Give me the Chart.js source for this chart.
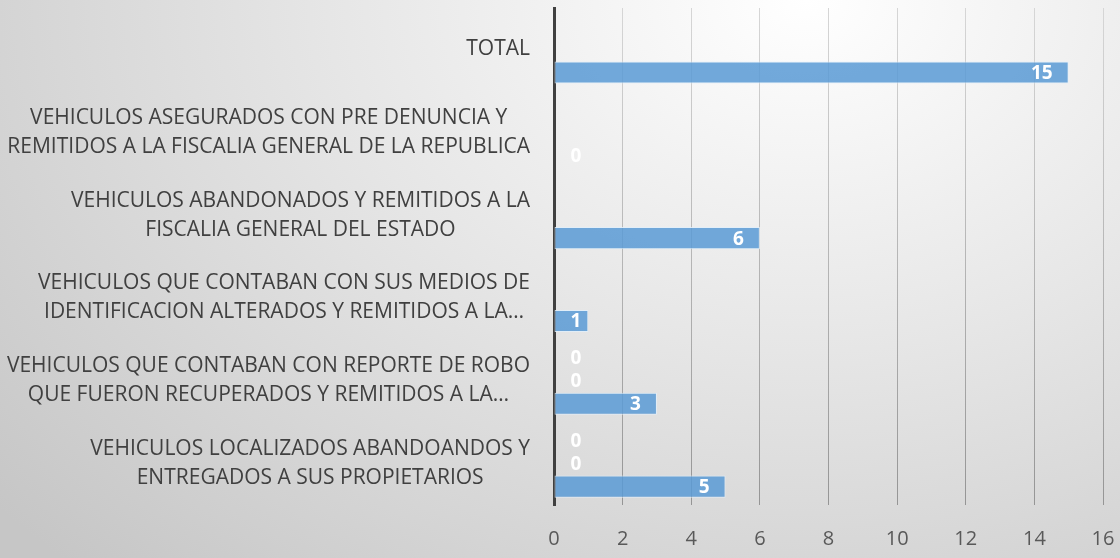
<!DOCTYPE html>
<html>
<head>
<meta charset="utf-8">
<script src="https://cdn.jsdelivr.net/npm/chart.js@4/dist/chart.umd.min.js"></script>
<style>
  html, body { margin:0; padding:0; width:1120px; height:558px; overflow:hidden; }
  body { background: radial-gradient(ellipse 95% 140% at 72% 0%, #ffffff 0%, #e6e6e6 45%, #c6c6c6 100%); }
  #wrap { position:relative; width:1120px; height:558px; }
</style>
</head>
<body>
<div id="wrap"><canvas id="c" width="1120" height="558"></canvas></div>
<script>
const categories = [
  ["TOTAL"],
  ["VEHICULOS ASEGURADOS CON PRE DENUNCIA Y", "REMITIDOS A LA FISCALIA GENERAL DE LA REPUBLICA"],
  ["VEHICULOS ABANDONADOS Y REMITIDOS A LA", "FISCALIA GENERAL DEL ESTADO"],
  ["VEHICULOS QUE CONTABAN CON SUS MEDIOS DE", "IDENTIFICACION ALTERADOS Y REMITIDOS A LA…"],
  ["VEHICULOS QUE CONTABAN CON REPORTE DE ROBO", "QUE FUERON RECUPERADOS Y REMITIDOS A LA…"],
  ["VEHICULOS LOCALIZADOS ABANDOANDOS Y", "ENTREGADOS A SUS PROPIETARIOS"]
];
const seriesA = [null, null, null, null, 0, 0];
const seriesB = [null, null, null, null, 0, 0];
const seriesC = [15, 0, 6, 1, 3, 5];
const xTicks = [0, 2, 4, 6, 8, 10, 12, 14, 16];

const FONT = "'Open Sans', 'Noto Sans', sans-serif";
const barFill = 'rgba(91,155,213,0.86)';
const barBorder = 'rgba(225,238,250,0.85)';

let gridGrad = null;
function gridColor(ctx) {
  const chart = ctx.chart;
  const a = chart.chartArea;
  if (!a) return '#c0c0c0';
  if (!gridGrad || gridGrad._b !== a.bottom) {
    gridGrad = chart.ctx.createLinearGradient(0, a.top, 0, a.bottom);
    gridGrad.addColorStop(0, '#d6d6d6');
    gridGrad.addColorStop(1, '#959595');
    gridGrad._b = a.bottom;
  }
  return gridGrad;
}

const yLabelPlugin = {
  id: 'yLabels',
  afterDraw(chart) {
    const ys = chart.scales.y;
    const ctx = chart.ctx;
    ctx.save();
    ctx.font = "21px " + FONT;
    ctx.fillStyle = '#404040';
    ctx.textBaseline = 'middle';
    ctx.textAlign = 'center';
    const right = 530, lh = 29;
    categories.forEach((lines, i) => {
      const y = ys.getPixelForValue(i);
      const w = Math.max(...lines.map(l => ctx.measureText(l).width));
      const cx = right - w / 2;
      const y0 = y - (lines.length - 1) * lh / 2;
      lines.forEach((l, k) => ctx.fillText(l, cx, y0 + k * lh));
    });
    ctx.restore();
  }
};

const dataLabelPlugin = {
  id: 'dataLabels',
  afterDatasetsDraw(chart) {
    const ctx = chart.ctx;
    const xs = chart.scales.x;
    const base = xs.getPixelForValue(0);
    ctx.save();
    ctx.font = "bold 19px " + FONT;
    ctx.fillStyle = '#ffffff';
    ctx.textBaseline = 'middle';
    ctx.textAlign = 'center';
    chart.data.datasets.forEach((ds, di) => {
      const meta = chart.getDatasetMeta(di);
      meta.data.forEach((el, i) => {
        const v = ds.data[i];
        if (v === null || v === undefined) return;
        const t = String(v);
        const w = ctx.measureText(t).width;
        const cx = Math.max(el.x - 16 - w / 2, base + 22);
        ctx.fillText(t, cx, el.y + 1);
      });
    });
    ctx.restore();
  }
};

const mk = (name, data) => ({
  label: name, data,
  backgroundColor: barFill, borderColor: barBorder, borderWidth: 1, borderSkipped: false,
  categoryPercentage: 0.834, barPercentage: 0.957
});

new Chart(document.getElementById('c'), {
  type: 'bar',
  data: {
    labels: categories.map(l => l.join(' ')),
    datasets: [mk('Serie 1', seriesA), mk('Serie 2', seriesB), mk('Serie 3', seriesC)]
  },
  options: {
    indexAxis: 'y',
    responsive: false,
    animation: false,
    layout: { padding: { left: 0, right: 17, top: 8, bottom: 0 } },
    plugins: { legend: { display: false }, tooltip: { enabled: false } },
    scales: {
      x: {
        min: 0, max: 16,
        afterBuildTicks: (s) => { s.ticks = xTicks.map(v => ({ value: v })); },
        afterFit: (s) => { s.height = 53; },
        grid: { color: gridColor, lineWidth: 1, drawTicks: true, tickLength: 22, tickColor: 'rgba(0,0,0,0)' },
        border: { display: false },
        ticks: { color: '#595959', font: { family: FONT, size: 20 }, padding: 0, maxRotation: 0 }
      },
      y: {
        afterFit: (s) => { s.width = 554; },
        grid: { display: false, drawTicks: false },
        border: { display: true, color: '#404040', width: 3 },
        ticks: { display: false }
      }
    }
  },
  plugins: [yLabelPlugin, dataLabelPlugin]
});
</script>
</body>
</html>
